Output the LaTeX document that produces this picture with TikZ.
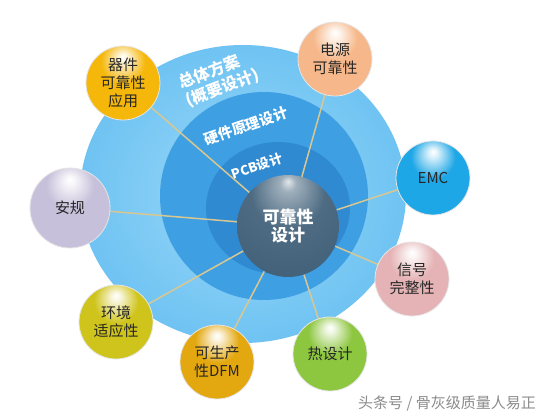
\documentclass[tikz,border=0pt]{standalone}
\usepackage{fontspec}
\setmainfont{Noto Sans CJK SC}
\pgfdeclarelayer{bg}
\pgfdeclarelayer{mid}
\pgfsetlayers{bg,mid,main}
\newcommand\mkball[2]{%
  \definecolor{c#1}{HTML}{#2}%
  \pgfdeclareradialshading{s#1}{\pgfpoint{0bp}{18bp}}{color(0bp)=(white); color(3bp)=(white!85!c#1); color(15bp)=(c#1); color(58bp)=(c#1); color(70bp)=(c#1!82!black)}}
\mkball{A}{F5B70A}
\mkball{B}{F6B88A}
\mkball{C}{1EA7E6}
\mkball{D}{E5B3B5}
\mkball{E}{8DC63F}
\mkball{F}{E3A70F}
\mkball{G}{CFC41C}
\mkball{H}{C7C0DA}
\definecolor{colS}{HTML}{3E5E77}
\pgfdeclareradialshading{sSph}{\pgfpoint{0bp}{22bp}}{color(0bp)=(white!85!colS); color(4bp)=(colS!50!white); color(18bp)=(colS!92!white); color(45bp)=(colS); color(72bp)=(colS!50!black)}
\definecolor{ringOutA}{HTML}{9AD8F9}
\definecolor{ringOutB}{HTML}{6FC3F2}
\definecolor{ringMid}{HTML}{3E9FE2}
\definecolor{ringIn}{HTML}{2F8AD2}
\definecolor{lineC}{HTML}{D9C791}
\begin{document}
\begin{tikzpicture}[x=1pt,y=-1pt,
  ball/.style={circle, minimum size=74pt, inner sep=0pt, align=center, text=black!85,
    font=\fontsize{15}{18}\selectfont, draw=white!90!black, line width=0.8pt, shade},
  conn/.style={draw=lineC, line width=1.5pt},
  ringtxt/.style={text=white, inner sep=0pt, font=\bfseries\fontsize{#1}{19}\selectfont},
  ringtxt/.default=15]
\useasboundingbox (0,0) rectangle (550,417);
\begin{pgfonlayer}{bg}
  \fill[white] (0,0) rectangle (550,417);
  \shade[inner color=ringOutA, outer color=ringOutB] (243,194) ellipse [x radius=163, y radius=149];
  \fill[ringMid] (264,196) circle [radius=104];
  \fill[ringIn] (278,208) ellipse [x radius=72, y radius=66];
\end{pgfonlayer}

\node[ringtxt=16, align=left, rotate=21] (t1) at (219,79) {总体方案\\(概要设计)};
\node[ringtxt=14.5, rotate=19] (t2) at (246,126) {硬件原理设计};
\node[ringtxt=13, rotate=19] (t3) at (257,166) {PCB设计};

\node[circle, minimum size=102pt, inner sep=0pt, shade, shading=sSph, align=center,
  text=white, font=\bfseries\fontsize{17}{18}\selectfont] (c) at (288,226) {可靠性\\设计};

\node[ball, shading=sA] (b1) at (123,83) {器件\\可靠性\\应用};
\node[ball, shading=sB] (b2) at (335,59) {电源\\可靠性};
\node[ball, shading=sC] (b3) at (433,178) {EMC};
\node[ball, shading=sD] (b4) at (412,279) {信号\\完整性};
\node[ball, shading=sE] (b5) at (330,354) {热设计};
\node[ball, shading=sF] (b6) at (217,362) {可生产\\性DFM};
\node[ball, shading=sG] (b7) at (116,322) {环境\\适应性};
\node[ball, shading=sH, minimum size=80pt] (b8) at (70,208) {安规};

\begin{pgfonlayer}{mid}
  \foreach \b in {b1,b2,b3,b4,b5,b6,b7,b8}
    \draw[conn] (c) -- (\b);
\end{pgfonlayer}

\node[text=black!45, font=\fontsize{15}{16}\selectfont] (wm) at (447,404) {头条号 / 骨灰级质量人易正};
\end{tikzpicture}
\end{document}
